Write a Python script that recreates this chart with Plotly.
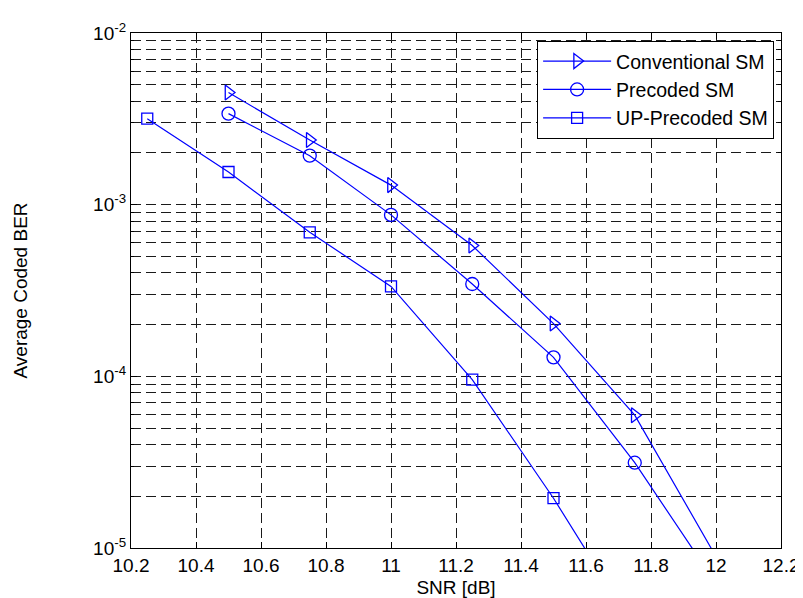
import plotly.graph_objects as go

snr_conv = [10.5, 10.75, 11.0, 11.25, 11.5, 11.75, 12.0]
ber_conv = [4.5e-3, 2.38e-3, 1.30e-3, 5.78e-4, 2.03e-4, 5.94e-5, 8.9e-6]

snr_prec = [10.5, 10.75, 11.0, 11.25, 11.5, 11.75, 12.0]
ber_prec = [3.39e-3, 1.93e-3, 8.72e-4, 3.45e-4, 1.29e-4, 3.14e-5, 6.2e-6]

snr_up = [10.25, 10.5, 10.75, 11.0, 11.25, 11.5, 11.75]
ber_up = [3.17e-3, 1.55e-3, 6.9e-4, 3.34e-4, 9.57e-5, 1.95e-5, 3.4e-6]

y_major = [1e-5, 1e-4, 1e-3, 1e-2]
y_major_text = ["10<sup>-5</sup>", "10<sup>-4</sup>", "10<sup>-3</sup>", "10<sup>-2</sup>"]
y_minor = [m * 10.0 ** e for e in (-5, -4, -3) for m in range(2, 10)]

BLUE = "#0000ff"
FONT = "Liberation Sans, Arial, sans-serif"

fig = go.Figure()
for name, xs, ys, sym, sz in [
    ("Conventional SM", snr_conv, ber_conv, "triangle-right-open", 13),
    ("Precoded SM", snr_prec, ber_prec, "circle-open", 13),
    ("UP-Precoded SM", snr_up, ber_up, "square-open", 11),
]:
    fig.add_trace(go.Scatter(
        x=xs, y=ys, name=name, mode="lines+markers",
        line=dict(color=BLUE, width=1.2),
        marker=dict(symbol=sym, size=sz, color=BLUE, line=dict(color=BLUE, width=1.3)),
    ))

grid_common = dict(gridcolor="#1a1a1a", griddash="10px,5px", gridwidth=1)

fig.update_layout(
    width=803, height=598,
    margin=dict(l=120, r=21, t=21, b=56),
    paper_bgcolor="white", plot_bgcolor="white",
    font=dict(family=FONT, size=19, color="black"),
    showlegend=True,
    legend=dict(
        x=0.9894, y=0.9846, xanchor="right", yanchor="top",
        bgcolor="white", bordercolor="black", borderwidth=1,
        font=dict(size=19.5), itemwidth=68, tracegroupgap=0,
    ),
    xaxis=dict(
        range=[10.2, 12.2], dtick=0.2, tick0=10.2,
        showline=True, linecolor="black", linewidth=1.3, mirror="allticks",
        ticks="inside", ticklen=6, tickcolor="black",
        showgrid=True, zeroline=False,
        title=dict(text="SNR [dB]", standoff=5, font=dict(size=19)),
        **grid_common,
    ),
    yaxis=dict(
        type="log", range=[-5, -2],
        tickmode="array", tickvals=y_major, ticktext=y_major_text,
        showline=True, linecolor="black", linewidth=1.3, mirror="allticks",
        ticks="inside", ticklen=6, tickcolor="black",
        showgrid=True, zeroline=False,
        title=dict(text="Average Coded BER", standoff=60, font=dict(size=19)),
        minor=dict(tickmode="array", tickvals=y_minor, ticks="inside", ticklen=3,
                   tickcolor="black", showgrid=True, gridcolor="#1a1a1a",
                   griddash="10px,5px", gridwidth=1),
        **grid_common,
    ),
)

fig.write_html("out.html")
